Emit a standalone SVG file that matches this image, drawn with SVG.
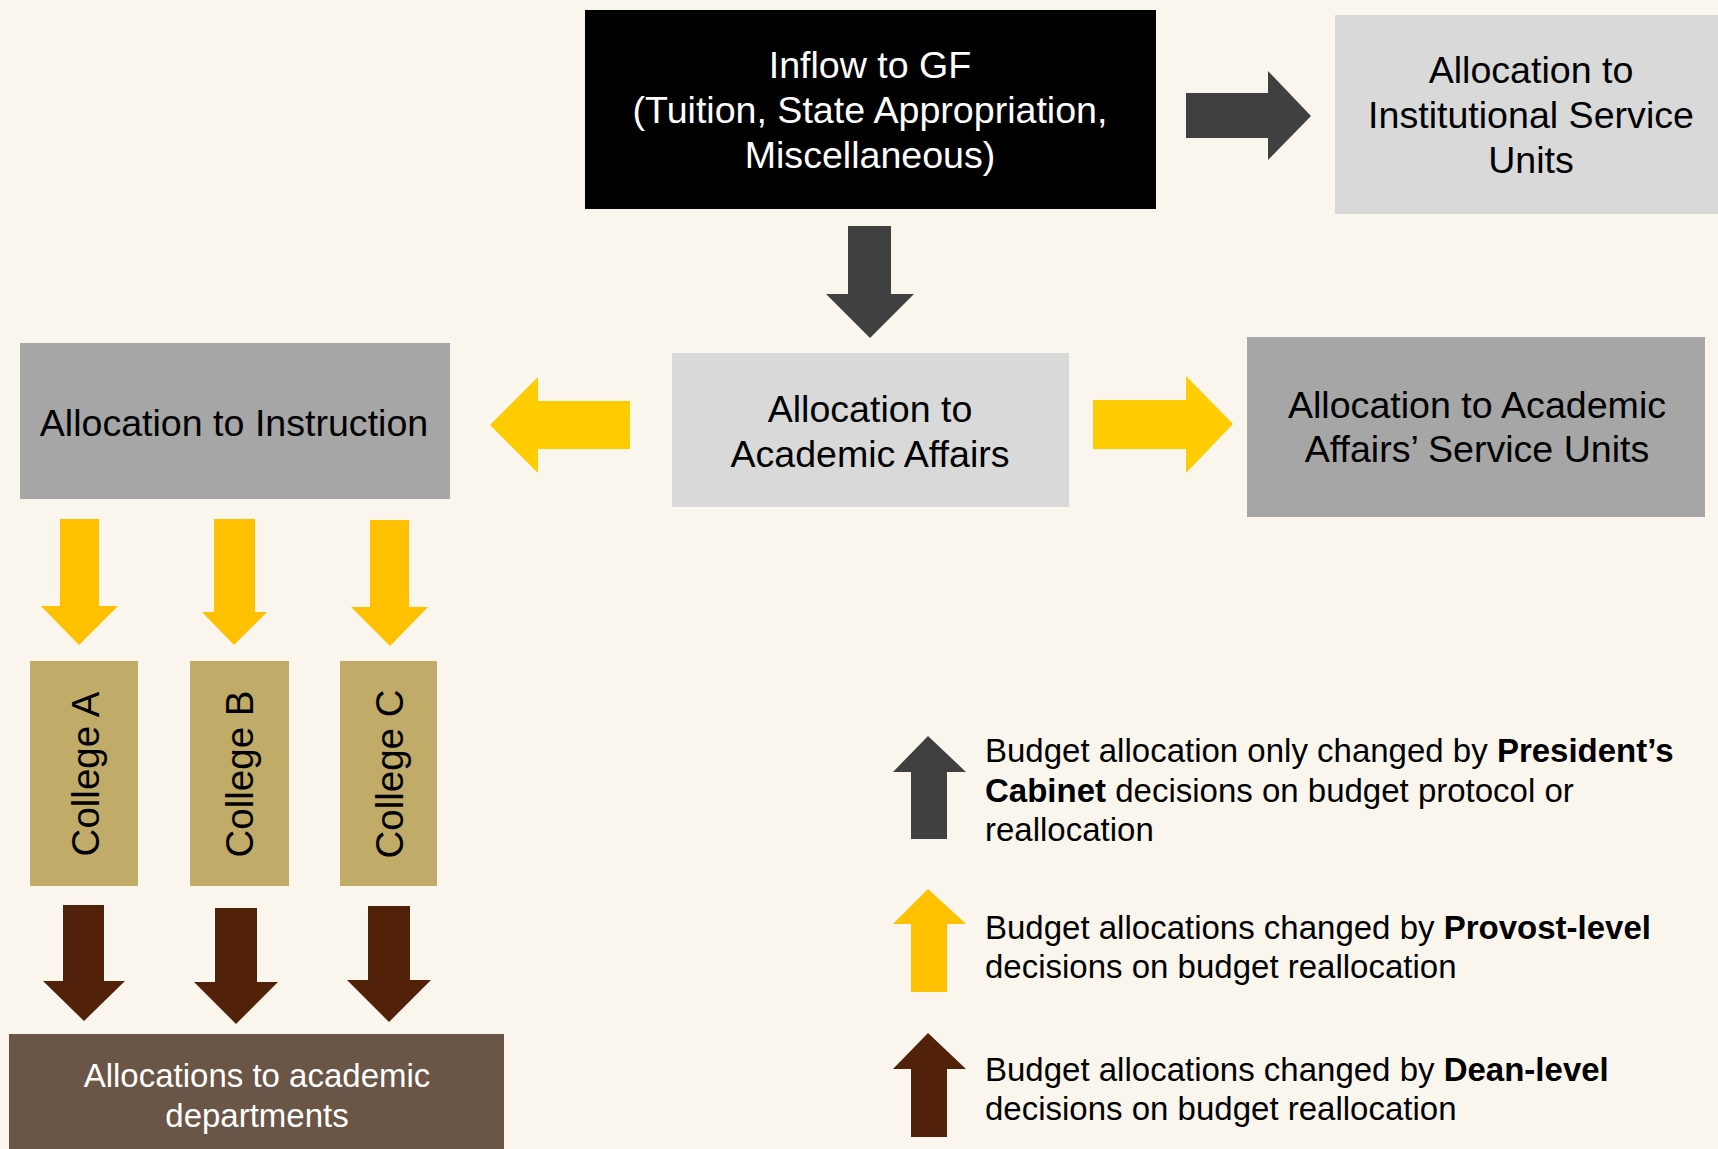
<svg xmlns="http://www.w3.org/2000/svg" width="1718" height="1149" viewBox="0 0 1718 1149">
<style>
text{font-family:"Liberation Sans",Arial,sans-serif}
.big{font-size:37.6px;text-anchor:middle;fill:#000}
.wt{fill:#fff}
.col{font-size:38.5px;text-anchor:middle;fill:#000}
.bot{font-size:33px;text-anchor:middle;fill:#fff}
.leg{font-size:33px;fill:#000}
.b{font-weight:bold}
.dk{fill:#404040}
.yl{fill:#ffcc00}
.yo{fill:#ffc000}
.br{fill:#51210a}
</style>
<rect x="0" y="0" width="1718" height="1149" fill="#faf6ee"/>
<g id="inflow">
<rect x="585" y="10" width="571" height="199" fill="#000"/>
<text class="big wt" x="870" y="78">Inflow to GF</text>
<text class="big wt" x="870" y="123">(Tuition, State Appropriation,</text>
<text class="big wt" x="870" y="168">Miscellaneous)</text>
</g>
<g id="institutional">
<rect x="1335" y="15" width="383" height="199" fill="#d9d9d9"/>
<text class="big" x="1531" y="83">Allocation to</text>
<text class="big" x="1531" y="128">Institutional Service</text>
<text class="big" x="1531" y="173">Units</text>
</g>
<g id="academic-affairs">
<rect x="672" y="353" width="397" height="154" fill="#d9d9d9"/>
<text class="big" x="870" y="422">Allocation to</text>
<text class="big" x="870" y="467">Academic Affairs</text>
</g>
<g id="instruction">
<rect x="20" y="343" width="430" height="156" fill="#a6a6a6"/>
<text class="big" x="234" y="436">Allocation to Instruction</text>
</g>
<g id="aa-service">
<rect x="1247" y="337" width="458" height="180" fill="#a6a6a6"/>
<text class="big" x="1477" y="418">Allocation to Academic</text>
<text class="big" x="1477" y="462">Affairs’ Service Units</text>
</g>
<g id="college-a">
<rect x="30" y="661" width="108" height="225" fill="#c1ab69"/>
<text class="col" transform="translate(99,774) rotate(-90)">College A</text>
</g>
<g id="college-b">
<rect x="190" y="661" width="99" height="225" fill="#c1ab69"/>
<text class="col" transform="translate(253,774) rotate(-90)">College B</text>
</g>
<g id="college-c">
<rect x="340" y="661" width="97" height="225" fill="#c1ab69"/>
<text class="col" transform="translate(403,774) rotate(-90)">College C</text>
</g>
<g id="departments">
<rect x="9" y="1034" width="495" height="115" fill="#6a5546"/>
<text class="bot" x="257" y="1087">Allocations to academic</text>
<text class="bot" x="257" y="1127">departments</text>
</g>
<g id="connectors">
<polygon class="dk" points="1186,93 1268,93 1268,71 1311,116 1268,160 1268,138 1186,138"/>
<polygon class="dk" points="848,226 891,226 891,294 914,294 870,338 826,294 848,294"/>
<polygon class="yl" points="630,401 538,401 538,377 490,425 538,473 538,449 630,449"/>
<polygon class="yl" points="1093,400 1186,400 1186,376 1233,424 1186,473 1186,449 1093,449"/>
<polygon class="yo" points="60,519 99,519 99,606 118,606 79,645 41,606 60,606"/>
<polygon class="yo" points="214,519 255,519 255,612 267,612 234,645 202,612 214,612"/>
<polygon class="yo" points="370,520 409,520 409,607 428,607 390,646 351,607 370,607"/>
<polygon class="br" points="63,905 104,905 104,981 125,981 84,1021 43,981 63,981"/>
<polygon class="br" points="215,908 257,908 257,982 278,982 236,1024 194,982 215,982"/>
<polygon class="br" points="368,906 410,906 410,980 431,980 389,1022 347,980 368,980"/>
</g>
<g id="legend-president">
<polygon class="dk" points="928,736 966,772 947,772 947,839 911,839 911,772 893,772"/>
<text class="leg" x="985" y="762">Budget allocation only changed by <tspan class="b">President’s</tspan></text>
<text class="leg" x="985" y="802"><tspan class="b">Cabinet</tspan> decisions on budget protocol or</text>
<text class="leg" x="985" y="841">reallocation</text>
</g>
<g id="legend-provost">
<polygon class="yo" points="928,889 966,924 947,924 947,992 911,992 911,924 893,924"/>
<text class="leg" x="985" y="939">Budget allocations changed by <tspan class="b">Provost-level</tspan></text>
<text class="leg" x="985" y="978">decisions on budget reallocation</text>
</g>
<g id="legend-dean">
<polygon class="br" points="928,1033 966,1069 947,1069 947,1137 911,1137 911,1069 893,1069"/>
<text class="leg" x="985" y="1081">Budget allocations changed by <tspan class="b">Dean-level</tspan></text>
<text class="leg" x="985" y="1120">decisions on budget reallocation</text>
</g>
</svg>
